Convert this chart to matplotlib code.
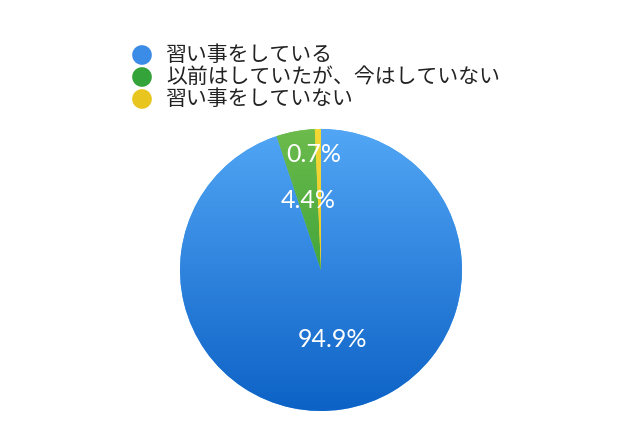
import numpy as np
import matplotlib
matplotlib.use("Agg")
import matplotlib.pyplot as plt
from matplotlib.colors import LinearSegmentedColormap

plt.rcParams['font.family'] = ['Noto Sans CJK JP', 'DejaVu Sans']

labels = ['習い事をしている', '以前はしていたが、今はしていない', '習い事をしていない']
values = [94.9, 4.4, 0.7]
pct_text = ['94.9%', '4.4%', '0.7%']
# gradient colours per slice (top, bottom)
grad_cols = [('#52a6f5', '#0d62c6'), ('#6cbb4c', '#1a9028'), ('#f3d835', '#e5bd14')]
dot_cols = ['#3b8ce6', '#34a33a', '#e9c520']

W, H = 640, 426
fig = plt.figure(figsize=(W / 100, H / 100), dpi=100)

cx, cy, r = 321, 270, 141
ax = fig.add_axes([(cx - r) / W, (H - cy - r) / H, 2 * r / W, 2 * r / H])
wedges, _ = ax.pie(values, startangle=90, counterclock=False, radius=1,
                   colors=[c[0] for c in grad_cols])
ax.set_xlim(-1, 1)
ax.set_ylim(-1, 1)
ax.set_aspect('equal')
ax.axis('off')

grad = np.linspace(1, 0, 256).reshape(-1, 1)
for w, (ctop, cbot) in zip(wedges, grad_cols):
    cm = LinearSegmentedColormap.from_list('g', [cbot, ctop])
    im = ax.imshow(grad, cmap=cm, extent=[-1, 1, -1, 1], origin='upper',
                   aspect='auto', zorder=w.get_zorder() + 0.1, vmin=0, vmax=1)
    im.set_clip_path(w)
    w.set_edgecolor('none')

# percentage labels
ang0 = 90.0
total = sum(values)
dist = [0.5, 0.5, 0.82]
for i, (v, t) in enumerate(zip(values, pct_text)):
    mid = ang0 - (v / total * 360) / 2
    ang0 -= v / total * 360
    x = dist[i] * np.cos(np.radians(mid))
    y = dist[i] * np.sin(np.radians(mid))
    if i == 2:
        x -= 0.035
    ax.text(x, y, t, ha='center', va='center', color='white', fontsize=18,
            family=['Lato', 'DejaVu Sans'], fontweight='normal', zorder=10)

# legend
lg = fig.add_axes([0, 0, 1, 1])
lg.set_xlim(0, W)
lg.set_ylim(H, 0)
lg.axis('off')
row_y = [55, 77, 99]
for yy, lab, col in zip(row_y, labels, dot_cols):
    lg.scatter([142], [yy], s=200, color=col, edgecolors='none')
    lg.text(166, yy, lab, ha='left', va='center', fontsize=15, color='#222222')

fig.savefig('out.png', dpi=100)
